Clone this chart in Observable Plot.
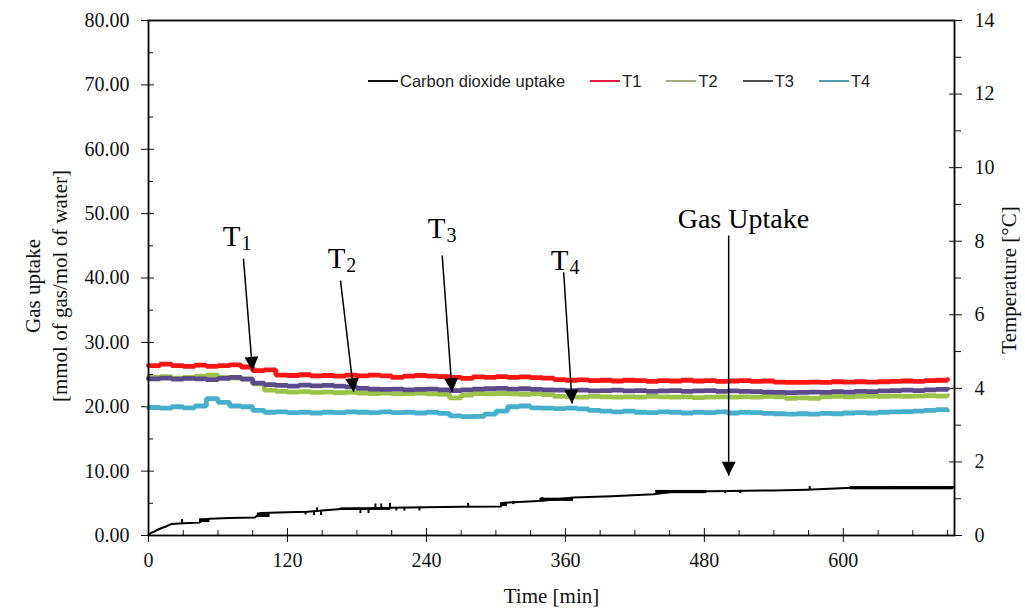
<!DOCTYPE html>
<html><head><meta charset="utf-8">
<script src="https://cdn.jsdelivr.net/npm/d3@7"></script>
<script src="https://cdn.jsdelivr.net/npm/@observablehq/plot@0.6"></script>
<style>
body{margin:0;background:#fff;}
#wrap{position:relative;width:1025px;height:616px;overflow:hidden;}
#wrap svg, #wrap svg g, #wrap svg text, #wrap svg tspan{font-family:"Liberation Serif","Times New Roman",serif !important;font-variant:normal !important;}
#legend{position:absolute;left:368px;top:70px;height:22px;display:flex;align-items:center;font-family:"Liberation Sans",Arial,sans-serif;font-size:16.5px;color:#222;white-space:nowrap;}
#legend .item{display:flex;align-items:center;margin-right:25px;}
#legend .sw{display:inline-block;width:30px;height:2px;margin-right:2px;}
</style></head><body>
<div id="wrap"><div id="legend"></div></div>
<script>
// ---------- data ----------
const timeT = [0,10,20,30,40,50,60,70,80,90,100,110,120,130,140,150,160,170,180,190,200,210,220,230,240,250,260,270,280,290,300,310,320,330,340,350,360,370,380,390,400,410,420,430,440,450,460,470,480,490,500,510,520,530,540,550,560,570,580,590,600,610,620,630,640,650,660,670,680,690];
const T1 = [4.62,4.66,4.62,4.60,4.63,4.60,4.62,4.64,4.58,4.48,4.50,4.36,4.35,4.37,4.34,4.35,4.33,4.36,4.34,4.36,4.34,4.30,4.33,4.35,4.33,4.32,4.30,4.27,4.31,4.30,4.32,4.30,4.31,4.29,4.28,4.24,4.22,4.23,4.21,4.22,4.20,4.22,4.21,4.19,4.21,4.20,4.22,4.20,4.21,4.19,4.20,4.21,4.19,4.20,4.17,4.16,4.16,4.17,4.16,4.18,4.17,4.18,4.17,4.18,4.19,4.20,4.19,4.21,4.22,4.24];
const T2 = [4.30,4.32,4.28,4.30,4.33,4.36,4.30,4.28,4.26,4.12,3.95,3.92,3.90,3.91,3.89,3.90,3.88,3.89,3.87,3.86,3.87,3.85,3.86,3.87,3.85,3.84,3.74,3.82,3.86,3.85,3.86,3.85,3.84,3.85,3.83,3.78,3.77,3.76,3.78,3.77,3.76,3.77,3.76,3.78,3.77,3.76,3.77,3.75,3.76,3.77,3.76,3.77,3.76,3.78,3.77,3.73,3.74,3.73,3.77,3.78,3.77,3.78,3.79,3.78,3.79,3.78,3.79,3.80,3.79,3.80];
const T3 = [4.26,4.28,4.25,4.27,4.26,4.24,4.27,4.30,4.25,4.14,4.10,4.08,4.06,4.09,4.07,4.08,4.06,4.04,4.00,3.98,3.97,3.98,3.96,3.97,3.98,3.96,3.94,3.96,3.98,3.99,4.00,3.98,3.99,3.97,3.96,3.95,3.94,3.95,3.93,3.94,3.95,3.93,3.94,3.92,3.93,3.94,3.92,3.93,3.94,3.92,3.93,3.92,3.91,3.90,3.89,3.88,3.89,3.90,3.89,3.91,3.90,3.92,3.91,3.93,3.94,3.95,3.94,3.96,3.97,3.98];
const T4 = [3.48,3.46,3.50,3.47,3.52,3.72,3.62,3.52,3.50,3.40,3.35,3.36,3.34,3.35,3.33,3.35,3.34,3.36,3.35,3.34,3.36,3.34,3.35,3.33,3.35,3.32,3.25,3.23,3.24,3.30,3.38,3.50,3.52,3.47,3.46,3.45,3.46,3.44,3.40,3.38,3.36,3.38,3.35,3.34,3.36,3.35,3.33,3.35,3.34,3.36,3.33,3.35,3.34,3.32,3.31,3.30,3.31,3.30,3.32,3.31,3.33,3.34,3.33,3.35,3.36,3.37,3.38,3.40,3.42,3.41];

const gasTime   = [0,2,5,8,12,15,20,30,44,47,53,70,92,95,97,120,137,150,166,190,209,240,270,304,307,320,340,367,400,436,453,500,540,568,608,650,695];
const gasUptake = [0.0,0.4,0.6,0.9,1.2,1.4,1.8,1.9,2.0,2.4,2.6,2.7,2.8,3.3,3.5,3.6,3.7,3.9,4.1,4.2,4.3,4.4,4.45,4.5,5.1,5.2,5.4,5.9,6.1,6.4,6.8,6.9,7.0,7.1,7.4,7.45,7.5];
// noisy stretches of the gas-uptake record (start, end, low, high)
const gasNoiseStart = [44,94,166,304,338,438,606];
const gasNoiseEnd   = [53,105,209,310,367,482,695];
const gasNoiseLow   = [2.0,2.8,3.9,4.5,5.3,6.5,7.1];
const gasNoiseHigh  = [2.6,3.5,4.3,5.1,5.8,7.0,7.6];
// isolated spikes (time, low, high)
const gasSpikeTime = [29,135.6,143,145.6,149,183,190,196,201,208.5,214,221,234,276,315,340,498,511,571];
const gasSpikeLow  = [1.9,3.2,3.1,3.7,3.1,3.4,3.4,4.2,4.2,4.3,3.8,3.8,3.8,4.4,4.8,5.3,6.5,6.5,7.1];
const gasSpikeHigh = [2.5,3.7,3.7,4.3,3.7,4.1,4.1,4.9,4.9,5.0,4.3,4.3,4.4,5.0,5.3,5.9,7.0,7.0,7.6];

const seriesNames = ["Carbon dioxide uptake","T1","T2","T3","T4"];
const xTicks = [0,120,240,360,480,600];
const xMinorTicks = [30,60,90,150,180,210,270,300,330,390,420,450,510,540,570,630,660,690];
const leftTicks = [0,10,20,30,40,50,60,70,80];
const leftMinorTicks = [5,15,25,35,45,55,65,75];
const rightTicks = [0,2,4,6,8,10,12,14];
const rightMinorTicks = [1,3,5,7,9,11,13];

// annotations (time, gas uptake)
const labelMain = ["T","T","T","T","Gas Uptake"];
const labelSub  = ["1","2","3","4",""];
const labelX = [79.4,170,256.4,362.6,513.7];
const labelY = [46.4,43.0,47.7,42.7,49.2];
const arrowX1 = [82.0,165.8,253.6,358.5,501.0];
const arrowY1 = [43.0,39.6,43.5,40.9,46.6];
const arrowX2 = [89.8,177.2,262.2,365.8,501.0];
const arrowY2 = [25.6,22.3,22.3,20.5,9.3];

// ---------- layout ----------
const W = 1025, H = 616, mL = 148, mR = 71, mT = 20, mB = 81;
const X_MAX = 696, G_MAX = 80, TEMP_MAX = 14;
const toY = t => t * G_MAX / TEMP_MAX;
const kx = (W - mL - mR) / X_MAX, ky = (H - mT - mB) / G_MAX;

const colors = {
  "Carbon dioxide uptake": "#000000",
  T1: "#ff1414", T2: "#9cc24a", T3: "#5b4b8a", T4: "#45afcc"
};
const legendColors = ["#111111","#e3203a","#a3ae78","#505050","#4d9db4"];

const gasData = gasTime.map((t,i) => ({t, v: gasUptake[i]}));
const gasNoise = gasNoiseStart.map((s,i) => ({x1: s, x2: gasNoiseEnd[i], y1: gasNoiseLow[i], y2: gasNoiseHigh[i]}));
const gasSpikes = gasSpikeTime.map((t,i) => ({t, y1: gasSpikeLow[i], y2: gasSpikeHigh[i]}));
const tempData = [];
for (const [name, arr] of [["T4",T4],["T2",T2],["T3",T3],["T1",T1]]) {
  timeT.forEach((t,i) => tempData.push({series: name, t, v: toY(arr[i])}));
}
const labels = labelMain.map((m,i) => ({main: m, sub: labelSub[i], x: labelX[i], y: labelY[i]}));
const arrows = arrowX1.map((x1,i) => ({x1, y1: arrowY1[i], x2: arrowX2[i], y2: arrowY2[i]}));

const headSymbol = {
  draw(context, size) {
    const h = Math.sqrt(size) * 1.3, w = h * 1.0;
    context.moveTo(0, 0);
    context.lineTo(-w/2, -h);
    context.lineTo(w/2, -h);
    context.closePath();
  }
};

const blank = () => "";
const serif = "Liberation Serif";
const ax = {label: null, fontFamily: serif, fontSize: 20};

const plot = Plot.plot({
  width: W, height: H,
  marginLeft: mL, marginRight: mR, marginTop: mT, marginBottom: mB,
  x: {domain: [0, X_MAX]},
  y: {domain: [0, G_MAX]},
  color: {domain: ["T1","T2","T3","T4"], range: [colors.T1, colors.T2, colors.T3, colors.T4]},
  style: {fontFamily: serif, fontSize: "20px", color: "#111", background: "white", overflow: "visible"},
  marks: [
    // axes
    Plot.axisX({...ax, ticks: xTicks, tickSize: 7, tickPadding: 10, tickFormat: d => String(d)}),
    Plot.axisX({...ax, ticks: xTicks, tickSize: -7, tickFormat: blank}),
    Plot.axisX({...ax, ticks: xMinorTicks, tickSize: -5, tickFormat: blank}),
    Plot.axisY({...ax, ticks: leftTicks, tickSize: 7, tickPadding: 12, tickFormat: d => d.toFixed(2)}),
    Plot.axisY({...ax, ticks: leftTicks, tickSize: -6, tickFormat: blank}),
    Plot.axisY({...ax, ticks: leftMinorTicks, tickSize: -5, tickFormat: blank}),
    Plot.axisY({...ax, anchor: "right", ticks: rightTicks.map(toY), tickSize: 7, tickPadding: 13,
      tickFormat: d => String(Math.round(d * TEMP_MAX / G_MAX))}),
    Plot.axisY({...ax, anchor: "right", ticks: rightTicks.map(toY), tickSize: -6, tickFormat: blank}),
    Plot.axisY({...ax, anchor: "right", ticks: rightMinorTicks.map(toY), tickSize: 6, tickFormat: blank}),
    // axis titles
    Plot.text(["Time [min]"], {frameAnchor: "bottom", dy: 67, textAnchor: "middle", fontSize: 21, fontFamily: serif, fill: "#111"}),
    Plot.text(["Gas uptake\n[mmol of gas/mol of water]"], {frameAnchor: "left", dx: -104, dy: 8, rotate: -90, textAnchor: "middle", lineHeight: 1.3, fontSize: 21, fontFamily: serif, fill: "#111"}),
    Plot.text(["Temperature [°C]"], {frameAnchor: "right", dx: 55, dy: 2, rotate: -90, textAnchor: "middle", fontSize: 21, fontFamily: serif, fill: "#111"}),
    // data
    Plot.line(tempData, {x: "t", y: "v", z: "series", stroke: "series", strokeWidth: 4.8, curve: "step-after", strokeLinejoin: "miter"}),
    Plot.line(gasData, {x: "t", y: "v", stroke: colors["Carbon dioxide uptake"], strokeWidth: 2}),
    Plot.rect(gasNoise, {x1: "x1", x2: "x2", y1: "y1", y2: "y2", fill: "black"}),
    Plot.ruleX(gasSpikes, {x: "t", y1: "y1", y2: "y2", stroke: "black", strokeWidth: 2}),
    // annotations
    Plot.link(arrows, {x1: "x1", y1: "y1", x2: "x2", y2: "y2", stroke: "black", strokeWidth: 1.5}),
    Plot.dot(arrows, {x: "x2", y: "y2", r: 6, symbol: headSymbol, fill: "black", stroke: "none",
      rotate: d => -Math.atan2((d.x2 - d.x1) * kx, (d.y1 - d.y2) * ky) * 180 / Math.PI}),
    Plot.text(labels.filter(d => d.sub), {x: "x", y: "y", text: "main", textAnchor: "end", fontSize: 29, fontFamily: serif, fill: "black"}),
    Plot.text(labels.filter(d => d.sub), {x: "x", y: "y", text: "sub", textAnchor: "start", dy: 7, dx: 1, fontSize: 20, fontFamily: serif, fill: "black"}),
    Plot.text(labels.filter(d => !d.sub), {x: "x", y: "y", text: "main", textAnchor: "middle", fontSize: 28, fontFamily: serif, fill: "black"}),
    Plot.frame({stroke: "black", strokeWidth: 1.8})
  ]
});
plot.querySelectorAll("text, tspan, g").forEach(el => {
  el.style.fontFamily = "'Liberation Serif', 'Times New Roman', serif";
  el.style.fontVariant = "normal";
});
const wrap = document.getElementById("wrap");
wrap.insertBefore(plot, wrap.firstChild);

const legend = document.getElementById("legend");
seriesNames.forEach((name, i) => {
  const item = document.createElement("div");
  item.className = "item";
  const sw = document.createElement("span");
  sw.className = "sw";
  sw.style.background = legendColors[i];
  const tx = document.createElement("span");
  tx.textContent = name;
  item.appendChild(sw); item.appendChild(tx);
  legend.appendChild(item);
});
</script>
</body></html>
